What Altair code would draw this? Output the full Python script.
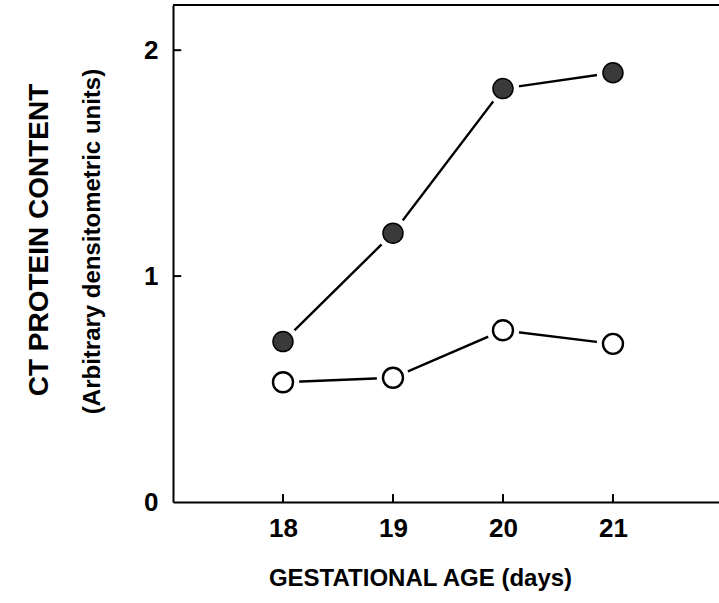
import altair as alt
import pandas as pd

days = [18, 19, 20, 21]
filled_vals = [0.71, 1.19, 1.83, 1.90]
open_vals = [0.53, 0.55, 0.76, 0.70]
x_ticks = [18, 19, 20, 21]
y_ticks = [0, 1, 2]
y_title_1 = "CT PROTEIN CONTENT"
y_title_2 = "(Arbitrary densitometric units)"
x_title = "GESTATIONAL AGE (days)"

df = pd.DataFrame({
    "day": days * 2,
    "value": filled_vals + open_vals,
    "series": ["filled"] * 4 + ["open"] * 4,
})
df_f = df[df.series == "filled"]
df_o = df[df.series == "open"]

XMIN, XMAX = 17, 21.964
YMIN, YMAX = 0, 2.2
FONT = "Liberation Sans"

xs = alt.Scale(domain=[XMIN, XMAX], nice=False, zero=False)
ys = alt.Scale(domain=[YMIN, YMAX], nice=False)

x_axis = alt.Axis(values=x_ticks, ticks=False, grid=False, domainColor="black",
                  domainWidth=2, labelFont=FONT, labelFontSize=26, labelFontWeight="bold",
                  labelColor="black", labelPadding=13, title=x_title,
                  titleFont=FONT, titleFontSize=24, titleFontWeight="bold", titleColor="black",
                  titleX=247, titleY=76, titleAlign="center", titleBaseline="middle")
y_axis = alt.Axis(values=y_ticks, ticks=False, grid=False, domainColor="black",
                  domainWidth=2, labelFont=FONT, labelFontSize=26, labelFontWeight="bold",
                  labelColor="black", labelPadding=15,
                  title=y_title_2,
                  titleFont=FONT, titleFontSize=24, titleFontWeight="bold", titleColor="black",
                  titleX=-81, titleY=236, titleAlign="center",
                  titleBaseline="middle", titleAngle=270)

X = lambda f: alt.X(f, scale=xs, axis=x_axis)
Y = lambda f: alt.Y(f, scale=ys, axis=y_axis)

base = alt.Chart(df)

top_border = alt.Chart(pd.DataFrame({"y": [YMAX]})).mark_rule(color="black", strokeWidth=2).encode(
    y=Y("y:Q")
)

xt = pd.DataFrame({"x": x_ticks, "y0": [0] * 4, "y1": [0.035] * 4})
xtick_layer = alt.Chart(xt).mark_rule(color="black", strokeWidth=2).encode(
    x=X("x:Q"), y=Y("y0:Q"), y2="y1:Q"
)
yt = pd.DataFrame({"y": [1, 2], "x0": [XMIN] * 2, "x1": [XMIN + 0.075] * 2})
ytick_layer = alt.Chart(yt).mark_rule(color="black", strokeWidth=2).encode(
    y=Y("y:Q"), x=X("x0:Q"), x2="x1:Q"
)

lines = base.mark_line(color="black", strokeWidth=2.4).encode(
    x=X("day:Q"), y=Y("value:Q"), detail="series:N",
)

halo = base.mark_circle(color="white", opacity=1, size=1050).encode(
    x=X("day:Q"), y=Y("value:Q"),
)

filled_pts = alt.Chart(df_f).mark_point(shape="circle", filled=True, fill="#3a3a3a",
                                        stroke="black", strokeWidth=1.5, opacity=1,
                                        size=400).encode(
    x=X("day:Q"), y=Y("value:Q"),
)
open_pts = alt.Chart(df_o).mark_point(shape="circle", filled=False, fill="white",
                                      fillOpacity=1, stroke="black", strokeWidth=2.4,
                                      opacity=1, size=400).encode(
    x=X("day:Q"), y=Y("value:Q"),
)

title1 = alt.Chart(pd.DataFrame({"t": [y_title_1]})).mark_text(
    font=FONT, fontSize=28, fontWeight="bold", color="black", angle=270,
    align="center", baseline="middle",
).encode(text="t:N", x=alt.value(-133), y=alt.value(235))

chart = alt.layer(top_border, xtick_layer, ytick_layer, lines, halo,
                  filled_pts, open_pts, title1).properties(
    width=546, height=497,
    autosize=alt.AutoSizeParams(type="none"),
    padding={"left": 173, "top": 5, "right": 0, "bottom": 101},
).configure_view(stroke=None).configure(background="white")

chart.save("out.html", embed_options={"renderer": "svg", "actions": False})
